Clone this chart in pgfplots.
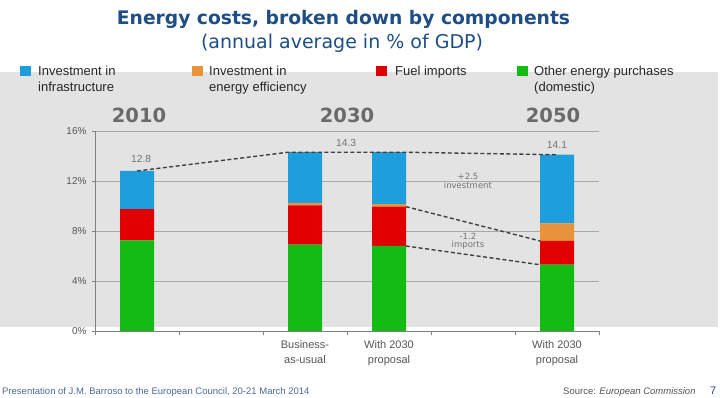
\documentclass[border=0pt]{standalone}
\usepackage{pgfplots}
\pgfplotsset{compat=1.18}
\usepackage{fontspec}
\setmainfont{Liberation Sans}
\newfontfamily\dejavu{DejaVu Sans}
\definecolor{cblue}{HTML}{1E9FDC}
\definecolor{corange}{HTML}{E8923A}
\definecolor{cred}{HTML}{E00000}
\definecolor{cgreen}{HTML}{12BC12}
\definecolor{bggray}{HTML}{E3E3E3}
\definecolor{axgray}{HTML}{808080}
\definecolor{gridgray}{HTML}{A8A8A8}
\definecolor{labgray}{HTML}{555555}
\definecolor{yeargray}{HTML}{6A6A6A}
\definecolor{titleblue}{HTML}{1F4E85}
\definecolor{footblue}{HTML}{4A6A9A}
\begin{document}
\begin{tikzpicture}
\useasboundingbox (0,0) rectangle (720pt,398pt);
\clip (0,0) rectangle (720pt,398pt);
\fill[bggray] (0,71pt) rectangle (718pt,326pt);
% title
\node[anchor=base, text=titleblue, font={\dejavu\bfseries\fontsize{18.7}{22}\selectfont}, inner sep=0] at (343.5pt,373pt) {Energy costs, broken down by components};
\node[anchor=base, text=titleblue, font={\dejavu\fontsize{19}{22}\selectfont}, inner sep=0] at (342pt,349pt) {(annual average in \% of GDP)};
% legend
\fill[cblue] (20pt,322pt) rectangle (31pt,332pt);
\fill[corange] (192pt,322pt) rectangle (203pt,332pt);
\fill[cred] (376pt,322pt) rectangle (387pt,332pt);
\fill[cgreen] (517pt,322pt) rectangle (528pt,332pt);
\begin{scope}[every node/.style={anchor=base west, inner sep=0, text=black!85, font={\fontsize{13}{15}\selectfont}}]
\node at (38pt,322pt) {Investment in};
\node at (38pt,306pt) {infrastructure};
\node at (209pt,322pt) {Investment in};
\node at (209pt,306pt) {energy efficiency};
\node at (395pt,322pt) {Fuel imports};
\node at (534pt,322pt) {Other energy purchases};
\node at (534pt,306pt) {(domestic)};
\end{scope}
% year labels
\begin{scope}[every node/.style={anchor=base, inner sep=0, text=yeargray, font={\dejavu\bfseries\fontsize{19.5}{22}\selectfont}}]
\node at (139pt,275pt) {2010};
\node at (347pt,275pt) {2030};
\node at (553pt,275pt) {2050};
\end{scope}
% footer
\node[anchor=base west, inner sep=0, text=footblue, font={\fontsize{9.5}{11}\selectfont}] at (2pt,3pt) {Presentation of J.M. Barroso to the European Council, 20-21 March 2014};
\node[anchor=base west, inner sep=0, text=labgray, font={\fontsize{9.5}{11}\selectfont}] at (563pt,3pt) {Source: \textit{European Commission}};
\node[anchor=base west, inner sep=0, text=titleblue, font={\fontsize{11}{12}\selectfont}] at (710pt,3pt) {7};
% bars
\begin{axis}[
  at={(95pt,67pt)}, anchor=south west, scale only axis,
  width=504pt, height=200pt,
  xmin=-0.5, xmax=5.5, ymin=0, ymax=16,
  ybar stacked, bar width=34pt,
  axis x line*=bottom, axis y line*=left,
  axis line style={draw=axgray, line width=0.8pt, -},
  xtick={0,2,3,5},
  xticklabels={{},{Business-\\as-usual},{With 2030\\proposal},{With 2030\\proposal}},
  xticklabel style={align=center, text=labgray, font={\fontsize{11}{15}\selectfont}, yshift=-3pt},
  major x tick style={draw=none},
  minor xtick={-0.5,0.5,1.5,2.5,3.5,4.5,5.5},
  minor x tick style={draw=axgray, line width=0.8pt},
  minor tick length=4pt,
  tick align=outside,
  ytick={0,4,8,12,16},
  yticklabels={0\%,4\%,8\%,12\%,16\%},
  yticklabel style={text=labgray, font={\fontsize{10}{11}\selectfont}, xshift=-2pt},
  y tick style={draw=axgray, line width=0.8pt},
  major tick length=3pt,
  ymajorgrids, grid style={draw=gridgray, line width=0.7pt},
  clip=false,
]
\addplot[fill=cgreen, draw=none] coordinates {(0,7.25) (2,6.9) (3,6.8) (5,5.3)};
\addplot[fill=cred, draw=none] coordinates {(0,2.5) (2,3.15) (3,3.15) (5,1.9)};
\addplot[fill=corange, draw=none] coordinates {(0,0) (2,0.2) (3,0.2) (5,1.4)};
\addplot[fill=cblue, draw=none] coordinates {(0,3.05) (2,4.05) (3,4.15) (5,5.5)};
\end{axis}
% overlay lines and annotations
\begin{axis}[
  at={(95pt,67pt)}, anchor=south west, scale only axis,
  width=504pt, height=200pt,
  xmin=-0.5, xmax=5.5, ymin=0, ymax=16,
  hide axis, clip=false,
]
\addplot[draw=black!75, line width=1.4pt, dash pattern=on 4pt off 2.5pt] coordinates {(0,12.8) (1.8,14.3) (3.2,14.3) (5,14.1)};
\addplot[draw=black!75, line width=1.4pt, dash pattern=on 4pt off 2.5pt] coordinates {(3.2,9.95) (4.8,7.2)};
\addplot[draw=black!75, line width=1.4pt, dash pattern=on 4pt off 2.5pt] coordinates {(3.2,6.8) (4.8,5.3)};
\begin{scope}[every node/.style={inner sep=0, text=black!55, font={\fontsize{10.3}{12}\selectfont}}]
\node at (axis cs:0.05,13.76) {12.8};
\node at (axis cs:2.49,15.04) {14.3};
\node at (axis cs:5.0,14.88) {14.1};
\end{scope}
\begin{scope}[every node/.style={inner sep=0, text=black!55, font={\dejavu\fontsize{8.5}{10}\selectfont}}]
\node at (axis cs:3.94,12.36) {+2.5};
\node at (axis cs:3.94,11.64) {investment};
\node at (axis cs:3.94,7.56) {-1.2};
\node at (axis cs:3.94,6.84) {imports};
\end{scope}
\end{axis}
\end{tikzpicture}
\end{document}
